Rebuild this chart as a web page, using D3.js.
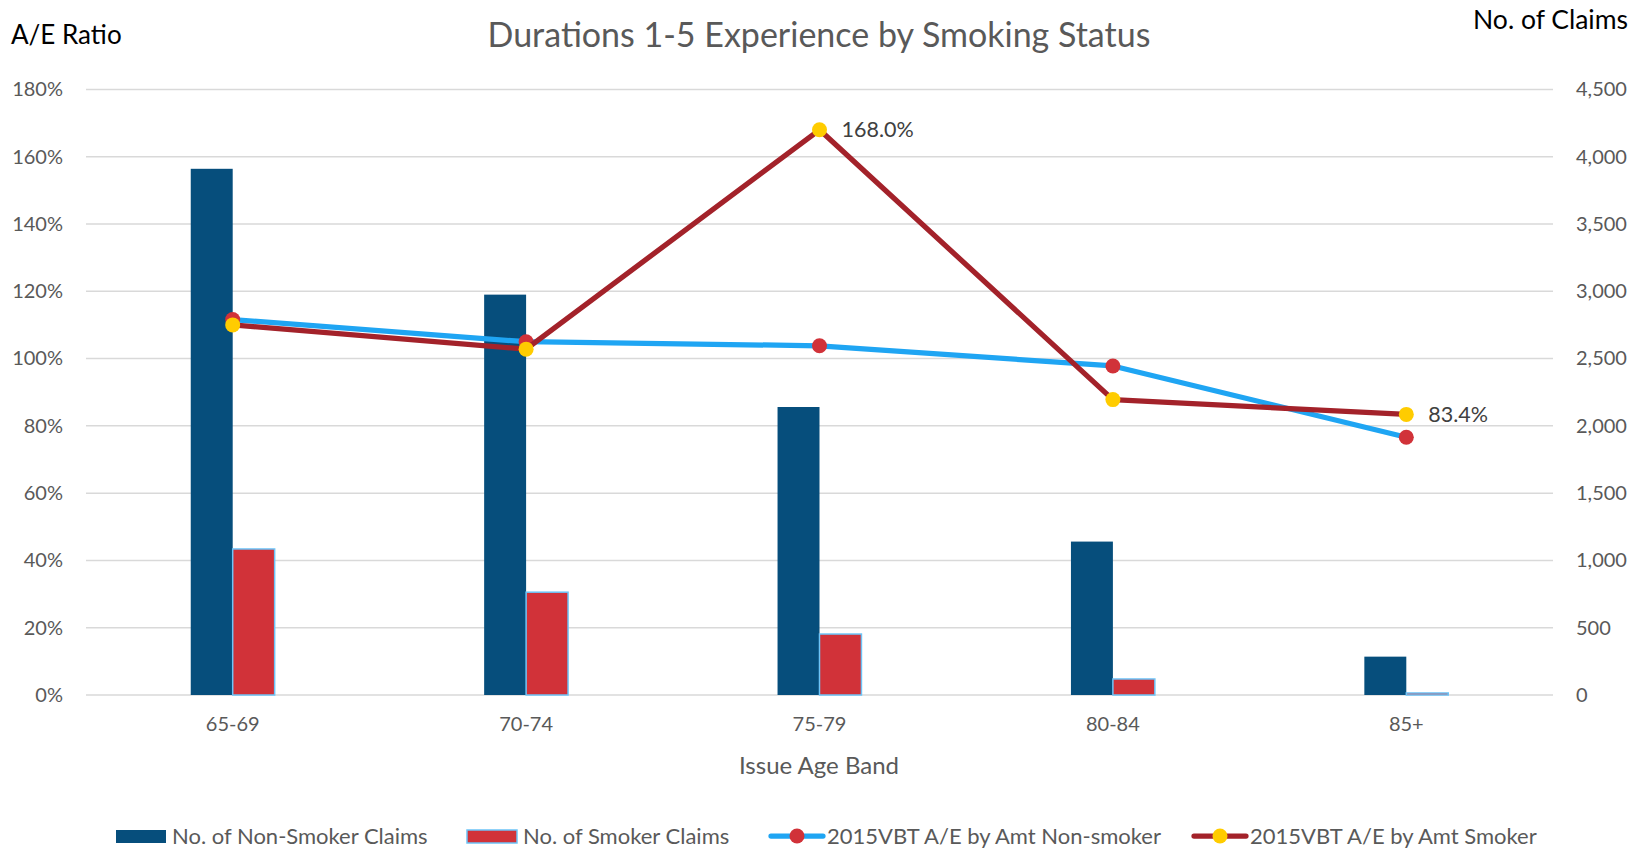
<!DOCTYPE html>
<html>
<head>
<meta charset="utf-8">
<script src="https://cdn.jsdelivr.net/npm/d3@7"></script>
<style>
  html, body { margin: 0; padding: 0; background: #fff; }
  svg { display: block; }
  text { font-family: "Lato", "Open Sans", sans-serif; }
</style>
</head>
<body>
<svg id="chart" width="1649" height="849"></svg>
<script>
// ---- data ----
const categories = ["65-69", "70-74", "75-79", "80-84", "85+"];
const nonSmokerClaims = [3910, 2975, 2140, 1140, 285];
const smokerClaims = [1085, 764, 453, 119, 15];
const aeNonSmoker = [1.116, 1.050, 1.038, 0.978, 0.766];
const aeSmoker = [1.100, 1.028, 1.680, 0.878, 0.834];
const leftTicks = [0, 0.2, 0.4, 0.6, 0.8, 1.0, 1.2, 1.4, 1.6, 1.8];
const rightTicks = [0, 500, 1000, 1500, 2000, 2500, 3000, 3500, 4000, 4500];
const seriesNames = ["No. of Non-Smoker Claims", "No. of Smoker Claims", "2015VBT A/E by Amt Non-smoker", "2015VBT A/E by Amt Smoker"];
const labelledPoints = [2, 4]; // indices of smoker line with data labels

// ---- layout ----
const svg = d3.select("#chart");
const plot = { left: 86, right: 1553, top: 89.4, bottom: 695 };
const C = {
  navy: "#064e7c", red: "#d13239", outline: "#6cc4f7",
  blue: "#1fa5f3", darkred: "#a3222a", yellow: "#ffcc00",
  grid: "#d9d9d9", text: "#595959", dark: "#404040"
};

const x = d3.scaleBand().domain(categories).range([plot.left, plot.right]);
const yL = d3.scaleLinear().domain([0, 1.8]).range([plot.bottom, plot.top]);
const yR = d3.scaleLinear().domain([0, 4500]).range([plot.bottom, plot.top]);
const barW = x.bandwidth() * 0.143;
const cx = c => x(c) + x.bandwidth() / 2;

// gridlines
svg.append("g").selectAll("line").data(leftTicks).join("line")
  .attr("x1", plot.left).attr("x2", plot.right)
  .attr("y1", d => yL(d)).attr("y2", d => yL(d))
  .attr("stroke", C.grid).attr("stroke-width", 1.5);

// left axis
const axL = svg.append("g").attr("transform", `translate(${plot.left},0)`)
  .call(d3.axisLeft(yL).tickValues(leftTicks).tickFormat(d3.format(".0%")).tickSize(0).tickPadding(23));
axL.select(".domain").remove();
axL.selectAll("text").attr("fill", C.text).style("font-size", "20px").style("font-family", "Lato");

// right axis
const axR = svg.append("g").attr("transform", `translate(${plot.right},0)`)
  .call(d3.axisRight(yR).tickValues(rightTicks).tickFormat(d3.format(",")).tickSize(0).tickPadding(23));
axR.select(".domain").remove();
axR.selectAll("text").attr("fill", C.text).style("font-size", "20px").style("font-family", "Lato");

// x axis
const axX = svg.append("g").attr("transform", `translate(0,${plot.bottom})`)
  .call(d3.axisBottom(x).tickSize(0).tickPadding(22));
axX.select(".domain").remove();
axX.selectAll("text").attr("fill", C.text).style("font-size", "20px").style("font-family", "Lato");

// bars
svg.append("g").selectAll("rect").data(categories).join("rect")
  .attr("x", c => cx(c) - barW).attr("width", barW)
  .attr("y", (c, i) => yR(nonSmokerClaims[i]))
  .attr("height", (c, i) => plot.bottom - yR(nonSmokerClaims[i]))
  .attr("fill", C.navy);
svg.append("g").selectAll("rect").data(categories).join("rect")
  .attr("x", c => cx(c)).attr("width", barW)
  .attr("y", (c, i) => yR(smokerClaims[i]))
  .attr("height", (c, i) => plot.bottom - yR(smokerClaims[i]))
  .attr("fill", C.red).attr("stroke", C.outline).attr("stroke-width", 1.5);

// lines
const line = d3.line().x(d => cx(d.c)).y(d => yL(d.v));
function drawSeries(vals, lineColor, markerColor) {
  const pts = categories.map((c, i) => ({ c, v: vals[i] }));
  svg.append("path").datum(pts).attr("d", line)
    .attr("fill", "none").attr("stroke", lineColor).attr("stroke-width", 5.25)
    .attr("stroke-linejoin", "round");
  svg.append("g").selectAll("circle").data(pts).join("circle")
    .attr("cx", d => cx(d.c)).attr("cy", d => yL(d.v)).attr("r", 7.5)
    .attr("fill", markerColor);
}
drawSeries(aeNonSmoker, C.blue, C.red);
drawSeries(aeSmoker, C.darkred, C.yellow);

// data labels
svg.append("g").selectAll("text").data(labelledPoints).join("text")
  .attr("x", i => cx(categories[i]) + 22).attr("y", i => yL(aeSmoker[i]))
  .attr("dy", "0.35em").attr("fill", C.dark).style("font-size", "21.5px")
  .text(i => d3.format(".1%")(aeSmoker[i]));

// titles
svg.append("text").attr("x", 819).attr("y", 35).attr("dy", "0.35em")
  .attr("text-anchor", "middle").attr("fill", C.text).style("font-size", "34px")
  .text("Durations 1-5 Experience by Smoking Status");
svg.append("text").attr("x", 11).attr("y", 35).attr("dy", "0.35em")
  .attr("fill", "#000").style("font-size", "26px").text("A/E Ratio");
svg.append("text").attr("x", 1628).attr("y", 20).attr("dy", "0.35em")
  .attr("text-anchor", "end").attr("fill", "#000").style("font-size", "26.5px").text("No. of Claims");
svg.append("text").attr("x", 819).attr("y", 766).attr("dy", "0.35em")
  .attr("text-anchor", "middle").attr("fill", C.text).style("font-size", "24px").text("Issue Age Band");

// legend
const legY = 836;
const leg = svg.append("g");
const legItems = [
  { x: 116, type: "bar", fill: C.navy, stroke: null },
  { x: 467, type: "bar", fill: C.red, stroke: C.outline },
  { x: 771, type: "line", line: C.blue, marker: C.red },
  { x: 1194, type: "line", line: C.darkred, marker: C.yellow }
];
legItems.forEach((it, i) => {
  if (it.type === "bar") {
    leg.append("rect").attr("x", it.x).attr("y", legY - 6).attr("width", 50).attr("height", 13)
      .attr("fill", it.fill).attr("stroke", it.stroke).attr("stroke-width", it.stroke ? 1.5 : 0);
  } else {
    leg.append("line").attr("x1", it.x).attr("x2", it.x + 52).attr("y1", legY).attr("y2", legY)
      .attr("stroke", it.line).attr("stroke-width", 5.25).attr("stroke-linecap", "round");
    leg.append("circle").attr("cx", it.x + 26).attr("cy", legY).attr("r", 7.5).attr("fill", it.marker);
  }
  leg.append("text").attr("x", it.x + 56).attr("y", legY).attr("dy", "0.35em")
    .attr("fill", C.text).style("font-size", "22px").text(seriesNames[i]);
});
</script>
</body>
</html>
